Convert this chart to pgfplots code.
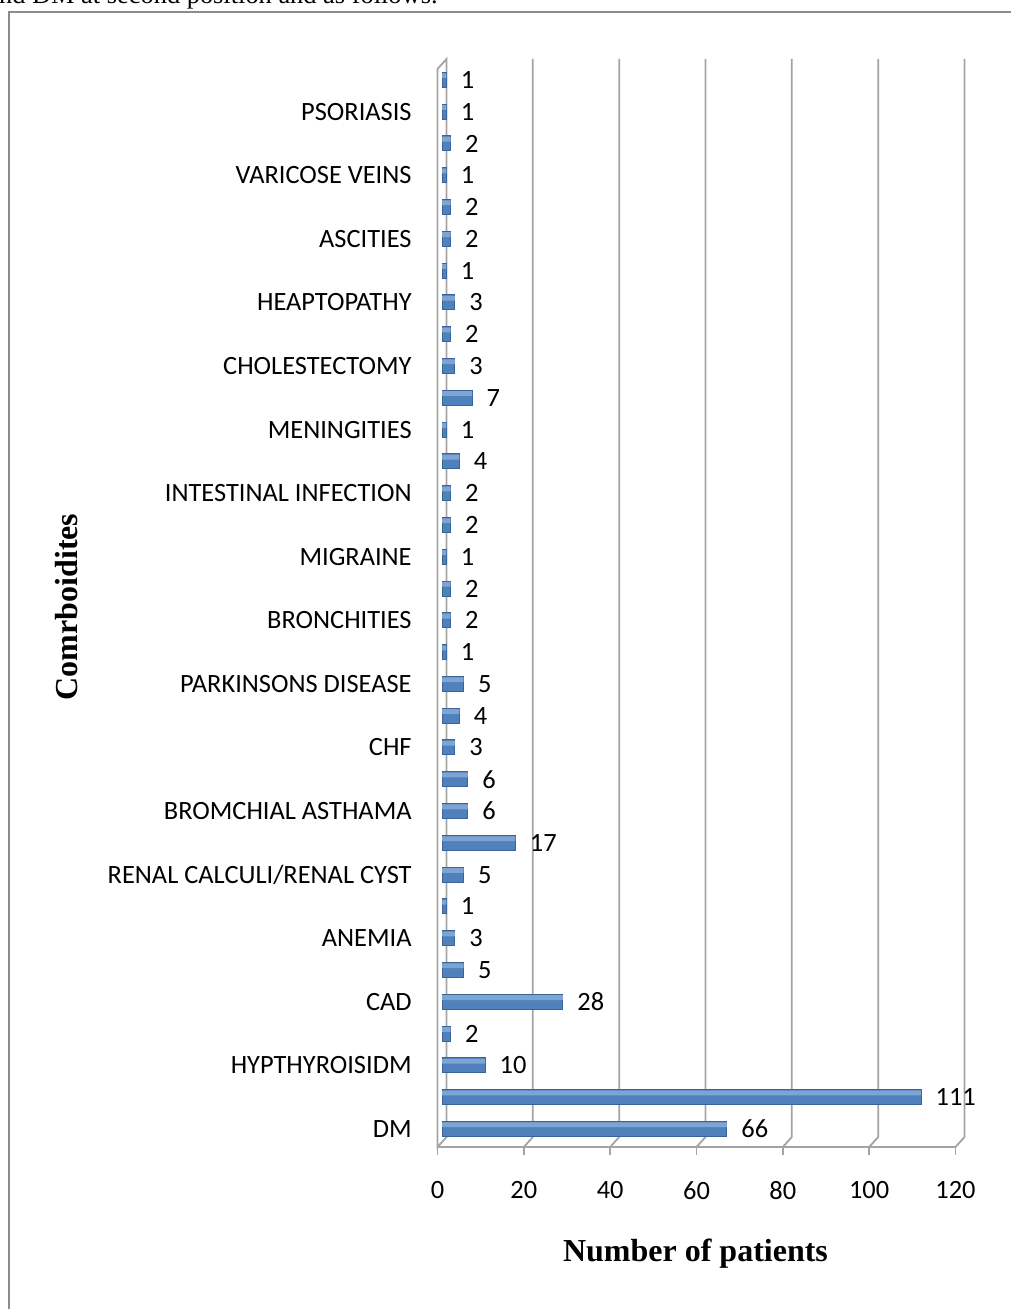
\documentclass[border=0pt]{standalone}
\usepackage{fontspec}
\setmainfont{Carlito}
\newfontfamily\timesfont{Liberation Serif}
\usepackage{pgfplots}
\usepackage{pgfplotstable}
\pgfplotsset{compat=1.18}
\definecolor{barmain}{HTML}{4F81BD}
\definecolor{bartop}{HTML}{7FA4D4}
\definecolor{baredge}{HTML}{3A6499}
\definecolor{gridc}{HTML}{A3A3A3}
\definecolor{framec}{HTML}{8C8C8C}
\pgfplotstableread{
val pos
66 1
111 2
10 3
2 4
28 5
5 6
3 7
1 8
5 9
17 10
6 11
6 12
3 13
4 14
5 15
1 16
2 17
2 18
1 19
2 20
2 21
4 22
1 23
7 24
3 25
2 26
3 27
1 28
2 29
2 30
1 31
2 32
1 33
1 34
}\comorb
\begin{document}
\begin{tikzpicture}
\begin{axis}[
  at={(221pt,-571pt)}, anchor=south west,
  scale only axis, width=259pt, height=539pt,
  xmin=0, xmax=120, ymin=0.59, ymax=34.5,
  axis line style={draw=none}, tick style={draw=none},
  xtick={0,20,...,120},
  ytick={1,3,...,33},
  yticklabels={DM, HYPTHYROISIDM, CAD, ANEMIA, RENAL CALCULI/RENAL CYST, BROMCHIAL ASTHAMA, CHF, PARKINSONS DISEASE, BRONCHITIES, MIGRAINE, INTESTINAL INFECTION, MENINGITIES, CHOLESTECTOMY, HEAPTOPATHY, ASCITIES, VARICOSE VEINS, PSORIASIS},
  /pgf/number format/assume math mode=true,
  xticklabel style={font=\fontsize{13.2}{15}\selectfont, anchor=north, inner sep=0pt, yshift=-19.5pt, xshift=-2.25pt},
  yticklabel style={font=\fontsize{13.2}{15}\selectfont, anchor=east, inner sep=0pt, xshift=-15pt},
  xlabel={Number of patients},
  ylabel={Comrboidites},
  xlabel style={font=\timesfont\bfseries\fontsize{16}{19}\selectfont, at={(axis description cs:0.4894,-0.1104)}, anchor=base},
  ylabel style={font=\timesfont\bfseries\fontsize{16}{19}\selectfont, at={(axis description cs:-0.7027,0.4963)}, anchor=base},
  clip=false,
]
% back wall gridlines and floor (3-D frame)
\pgfplotsinvokeforeach{20,40,60,80,100,120}{
  \draw[gridc, line width=0.9pt] ([shift={(-2.25pt,-2.5pt)}]axis cs:#1,0.59) -- ([shift={(2.25pt,2.5pt)}]axis cs:#1,0.59) -- ([shift={(2.25pt,2.5pt)}]axis cs:#1,34.5);
}
\pgfplotsinvokeforeach{0,20,40,60,80,100,120}{
  \draw[gridc, line width=0.9pt] ([shift={(-2.25pt,-2.5pt)}]axis cs:#1,0.59) -- ([shift={(-2.25pt,-6.5pt)}]axis cs:#1,0.59);
}
\draw[gridc, line width=0.9pt] ([shift={(-2.25pt,-2.5pt)}]axis cs:0,0.59) -- ([shift={(-2.25pt,-2.5pt)}]axis cs:120,0.59);
\draw[gridc, line width=0.9pt] ([shift={(-2.25pt,-2.5pt)}]axis cs:0,0.59) -- ([shift={(-2.25pt,-2.5pt)}]axis cs:0,34.5) -- ([shift={(2.25pt,2.5pt)}]axis cs:0,34.5) -- ([shift={(2.25pt,2.5pt)}]axis cs:0,0.59) -- cycle;
% bars
\addplot[xbar, bar width=7.5pt, draw=baredge, line width=0.5pt, fill=barmain,
  nodes near coords, point meta=x,
  nodes near coords style={font=\fontsize{13.2}{15}\selectfont, anchor=west, inner sep=0pt, xshift=7pt, text=black}]
  table[x=val, y=pos] {\comorb};
% lighter upper face of each bar
\addplot[xbar, bar width=2.4pt, bar shift=2.1pt, draw=none, fill=bartop]
  table[x=val, y=pos] {\comorb};
\end{axis}
\draw[framec, line width=1pt] (4.5pt,-660pt) -- (4.5pt,-6pt) -- (510pt,-6pt);
\node[anchor=base east, inner sep=0pt, font=\timesfont\fontsize{13.2}{15}\selectfont] at (219pt,-2pt) {and DM at second position and as follows.};
\pgfresetboundingbox
\useasboundingbox (0,0) rectangle (505pt,-654.5pt);
\end{tikzpicture}
\end{document}
